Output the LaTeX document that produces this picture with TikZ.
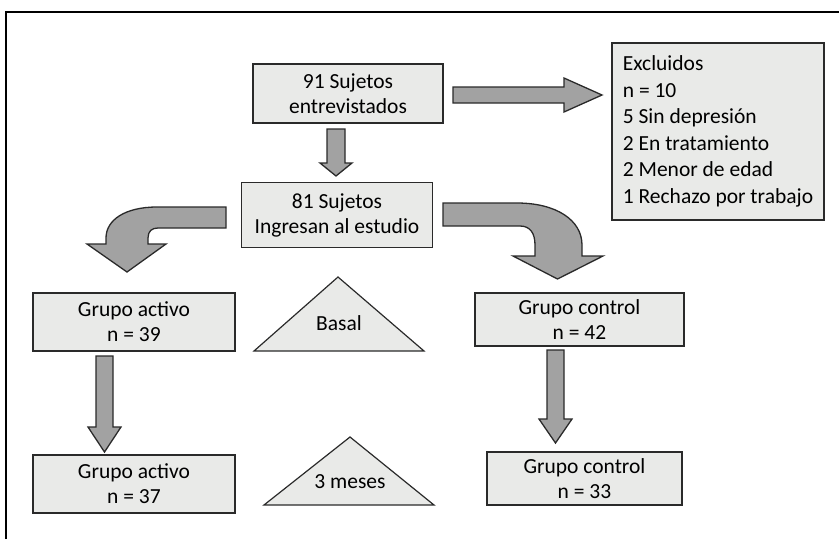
\documentclass[tikz,border=0pt]{standalone}
\usepackage{fontspec}
\setmainfont{Carlito}
\definecolor{boxfill}{HTML}{E9EAE8}
\definecolor{arrfill}{HTML}{A2A2A2}
\definecolor{edge}{HTML}{2A2A2A}
\begin{document}
\begin{tikzpicture}[x=1pt,y=-1pt,
  box/.style={draw=edge, fill=boxfill, line width=1.2pt, inner sep=0pt, align=center,
              font=\fontsize{21.5}{25}\selectfont},
  blockarrow/.style={draw=edge, fill=arrfill, line width=1.3pt, line join=miter},
  tri/.style={draw=edge, fill=boxfill, line width=1.2pt, line join=miter},
  lbl/.style={font=\fontsize{21.5}{25}\selectfont}]
\useasboundingbox (0,0) rectangle (839,539);
% frame
\draw[line width=1.5pt, black] (6,539) -- (6,12) -- (839,12);

% boxes
\node[box, minimum width=190pt, minimum height=59pt] (b1) at (348,93.5) {91 Sujetos\\entrevistados};
\node[box, minimum width=191pt, minimum height=65pt] (b2) at (337,215) {81 Sujetos\\Ingresan al estudio};
\node[box, align=left, minimum width=212pt, minimum height=177pt,
      font=\fontsize{21.5}{26.5}\selectfont] (ex) at (718,131.5)
  {Excluidos\\n = 10\\5 Sin depresión\\2 En tratamiento\\2 Menor de edad\\1 Rechazo por trabajo};
\node[box, minimum width=202pt, minimum height=58pt] (ga1) at (134,322) {Grupo activo\\n = 39};
\node[box, minimum width=209pt, minimum height=53pt] (gc1) at (579.5,319.5) {Grupo control\\n = 42};
\node[box, minimum width=202pt, minimum height=58pt] (ga2) at (134,484) {Grupo activo\\n = 37};
\node[box, minimum width=195pt, minimum height=53pt] (gc2) at (584.5,478.5) {Grupo control\\n = 33};

% triangles
\draw[tri] (254,351) -- (338,277) -- (424,351) -- cycle;
\node[lbl] (basal) at (339,323) {Basal};
\draw[tri] (264,505) -- (350,437) -- (434,505) -- cycle;
\node[lbl] (tres) at (350,482) {3 meses};

% block arrows
% b1 -> b2
\draw[blockarrow] (327,129) -- (345,129) -- (345,163) -- (352,163) -- (336,176)
  -- (320,163) -- (327,163) -- cycle;
% b1 -> ex
\draw[blockarrow] (453,87) -- (564,87) -- (564,78) -- (602,95) -- (564,112)
  -- (564,103) -- (453,103) -- cycle;
% b2 -> gc1 (curved right)
\draw[blockarrow] (443,203) -- (517,203) .. controls (556,203) and (582,220) .. (582,245)
  -- (582,256) -- (603,256) -- (557.5,279) -- (513,256) -- (535,256) -- (535,245)
  .. controls (535,233) and (530,226) .. (520,226) -- (443,226) -- cycle;
% b2 -> ga1 (curved left)
\draw[blockarrow] (226,207) -- (157,207) .. controls (125,207) and (106,220) .. (106,238)
  -- (106,244) -- (87,244) -- (127,272) -- (166,244) -- (148,244) -- (148,238)
  .. controls (148,231) and (152,228) .. (158,228) -- (226,228) -- cycle;
% ga1 -> ga2
\draw[blockarrow] (96,356) -- (113,356) -- (113,427) -- (121,427) -- (104.5,452)
  -- (88,427) -- (96,427) -- cycle;
% gc1 -> gc2
\draw[blockarrow] (547,350) -- (564,350) -- (564,419) -- (572,419) -- (555.5,443)
  -- (539,419) -- (547,419) -- cycle;
\end{tikzpicture}
\end{document}
